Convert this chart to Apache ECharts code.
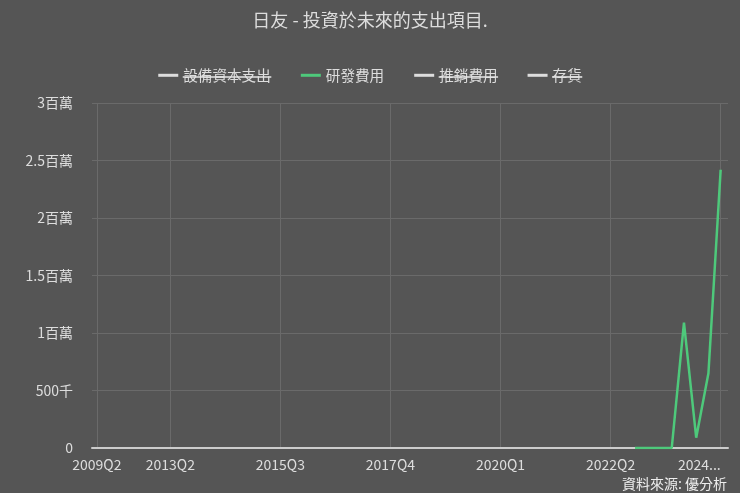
<!DOCTYPE html>
<html>
<head>
<meta charset="utf-8">
<script src="https://cdn.jsdelivr.net/npm/echarts@6/dist/echarts.min.js"></script>
<style>
html,body{margin:0;padding:0;background:#555555;}
#c{width:740px;height:493px;}
</style>
</head>
<body>
<div id="c"></div>
<script>
// ---- data ----
var categories = [
  '2009Q2','2012Q1','2012Q2','2012Q3','2012Q4','2013Q1','2013Q2','2013Q3','2013Q4',
  '2014Q1','2014Q2','2014Q3','2014Q4','2015Q1','2015Q2','2015Q3','2015Q4',
  '2016Q1','2016Q2','2016Q3','2016Q4','2017Q1','2017Q2','2017Q3','2017Q4',
  '2018Q1','2018Q2','2018Q3','2018Q4','2019Q1','2019Q2','2019Q3','2019Q4',
  '2020Q1','2020Q2','2020Q3','2020Q4','2021Q1','2021Q2','2021Q3','2021Q4',
  '2022Q1','2022Q2','2022Q3','2022Q4','2023Q1','2023Q2','2023Q3','2023Q4',
  '2024Q1','2024Q2','2024Q3'
];
var capexValues = [];      // hidden series (not drawn in the reference)
var rdValues = [
  null,null,null,null,null,null,null,null,null,null,
  null,null,null,null,null,null,null,null,null,null,
  null,null,null,null,null,null,null,null,null,null,
  null,null,null,null,null,null,null,null,null,null,
  null,null,null,null,
  0, 0, 0, 0, 1090000, 90000, 650000, 2420000
];
var sellingValues = [];    // hidden series
var inventoryValues = [];  // hidden series
var xTickIndex = [0, 6, 15, 24, 33, 42, 51];
var yTickLabels = ['0', '500千', '1百萬', '1.5百萬', '2百萬', '2.5百萬', '3百萬'];
var seriesNames = ['設備資本支出', '研發費用', '推銷費用', '存貨'];
var hiddenNames = ['設備資本支出', '推銷費用', '存貨'];

function toPairs(arr) {
  var out = [];
  for (var i = 0; i < arr.length; i++) out.push([i, arr[i]]);
  return out;
}

var FONT = '"Noto Sans CJK TC", "Noto Sans", sans-serif';
var chart = echarts.init(document.getElementById('c'), null, {renderer: 'canvas'});
var selected = {};
hiddenNames.forEach(function (n) { selected[n] = false; });

var sourceText = {
  type: 'text', right: 13, bottom: 2,
  style: {text: '資料來源: 優分析', fill: '#eeeeee', font: '14px ' + FONT}
};

var option = {
  backgroundColor: '#555555',
  animation: false,
  textStyle: {fontFamily: FONT},
  title: {
    text: '日友 - 投資於未來的支出項目.',
    left: 'center', top: 6,
    textStyle: {color: '#dddddd', fontSize: 18, fontWeight: 'normal', fontFamily: FONT}
  },
  legend: {
    data: seriesNames, selected: selected,
    top: 63, left: 'center', icon: 'rect',
    itemWidth: 20, itemHeight: 3, itemGap: 30,
    inactiveColor: '#dddddd', inactiveBorderColor: '#dddddd',
    textStyle: {color: '#dddddd', fontSize: 14.6, fontFamily: FONT}
  },
  graphic: [sourceText],
  grid: {left: 92, right: 12, top: 103, bottom: 45, containLabel: false},
  xAxis: {
    type: 'value', min: -0.4, max: categories.length - 1 + 0.6,
    axisLine: {show: true, lineStyle: {color: '#cccccc', width: 2}},
    axisTick: {show: false, customValues: xTickIndex},
    splitLine: {show: true, lineStyle: {color: '#6a6a6a', width: 1}},
    axisLabel: {
      customValues: xTickIndex, color: '#dddddd', fontSize: 14, fontFamily: FONT,
      margin: 10, alignMaxLabel: 'right',
      formatter: function (v) {
        var i = Math.round(v);
        var s = categories[i] || '';
        if (i === categories.length - 1) s = s.slice(0, 4) + '...';
        return s;
      }
    }
  },
  yAxis: {
    type: 'value', min: 0, max: 3000000, interval: 500000,
    axisLine: {show: false}, axisTick: {show: false},
    splitLine: {show: true, lineStyle: {color: '#6a6a6a', width: 1}},
    axisLabel: {
      color: '#dddddd', fontSize: 14, fontFamily: FONT, margin: 19,
      formatter: function (v) { return yTickLabels[Math.round(v / 500000)]; }
    }
  },
  series: [
    {name: '設備資本支出', type: 'line', data: toPairs(capexValues), symbol: 'none', lineStyle: {width: 2.5}},
    {name: '研發費用', type: 'line', data: toPairs(rdValues), symbol: 'none', showSymbol: false,
     lineStyle: {width: 2.5, color: '#4ec97b'}, itemStyle: {color: '#4ec97b'}},
    {name: '推銷費用', type: 'line', data: toPairs(sellingValues), symbol: 'none', lineStyle: {width: 2.5}},
    {name: '存貨', type: 'line', data: toPairs(inventoryValues), symbol: 'none', lineStyle: {width: 2.5}}
  ]
};
chart.setOption(option);

// strike-through on the hidden legend entries, placed from the rendered legend text bounds
(function () {
  var list = chart.getZr().storage.getDisplayList(true);
  var els = [sourceText];
  list.forEach(function (el) {
    var t = el.style && el.style.text;
    if (t != null && hiddenNames.indexOf(String(t)) >= 0) {
      var r = el.getBoundingRect().clone();
      var m = el.getComputedTransform();
      if (m) r.applyTransform(m);
      els.push({
        type: 'rect', z: 100,
        shape: {x: r.x - 0.5, y: r.y + r.height * 0.56, width: r.width + 1, height: 1.6},
        style: {fill: '#e4e4e4'}
      });
    }
  });
  chart.setOption({graphic: els});
})();
</script>
</body>
</html>
